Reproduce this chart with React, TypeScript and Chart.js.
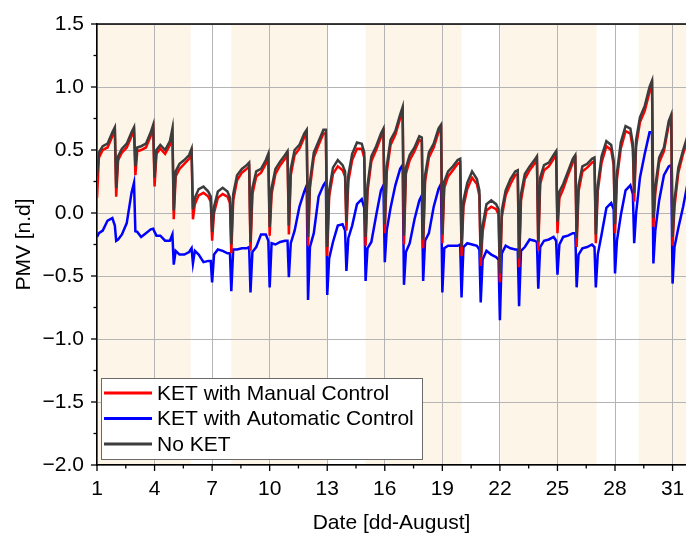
import React, { useEffect, useRef } from 'react';
import { Chart, registerables } from 'chart.js';

Chart.register(...registerables);

// ---- data ----
const seriesLabels = ['KET with Manual Control', 'KET with Automatic Control', 'No KET'];
const seriesColors = ['#ff0000', '#0000ff', '#3c3c3c'];

// sampling times inside each day (fraction of the day)
const dayFractions = [0, 0.1, 0.3, 0.55, 0.8, 0.93];
const augustDays = Array.from({ length: 31 }, (_, i) => i + 1);

const xTickValues = [1, 4, 7, 10, 13, 16, 19, 22, 25, 28, 31];
const xMin = 1;
const xMax = 31.7;
const yMin = -2.0;
const yMax = 1.5;

const weekdayBandStart = [1, 8.0, 15.0, 22.03, 29.23];
const weekdayBandEnd = [5.88, 13.04, 20.0, 27.04, 31.7];

const noKetByDay = [
  [0.29, 0.48, 0.53, 0.55, 0.64, 0.68],
  [0.20, 0.45, 0.51, 0.55, 0.64, 0.68],
  [0.37, 0.52, 0.53, 0.55, 0.64, 0.70],
  [0.28, 0.50, 0.54, 0.50, 0.57, 0.67],
  [0.02, 0.33, 0.39, 0.42, 0.46, 0.51],
  [0.03, 0.12, 0.19, 0.21, 0.17, 0.13],
  [-0.15, 0.05, 0.17, 0.20, 0.17, 0.12],
  [-0.25, 0.15, 0.30, 0.35, 0.38, 0.40],
  [-0.23, 0.20, 0.33, 0.35, 0.42, 0.47],
  [-0.11, 0.20, 0.35, 0.41, 0.46, 0.49],
  [-0.10, 0.35, 0.50, 0.54, 0.63, 0.66],
  [-0.19, 0.25, 0.48, 0.57, 0.66, 0.66],
  [-0.27, 0.18, 0.36, 0.42, 0.38, 0.33],
  [-0.07, 0.30, 0.47, 0.56, 0.55, 0.48],
  [-0.19, 0.22, 0.45, 0.53, 0.63, 0.67],
  [-0.09, 0.37, 0.58, 0.65, 0.78, 0.84],
  [-0.18, 0.36, 0.46, 0.52, 0.61, 0.60],
  [-0.21, 0.30, 0.48, 0.55, 0.67, 0.70],
  [-0.17, 0.25, 0.33, 0.37, 0.42, 0.43],
  [-0.27, 0.10, 0.24, 0.33, 0.27, 0.18],
  [-0.35, -0.10, 0.07, 0.10, 0.07, 0.03],
  [-0.48, 0.02, 0.18, 0.27, 0.33, 0.34],
  [-0.36, 0.15, 0.31, 0.37, 0.42, 0.45],
  [-0.23, 0.28, 0.38, 0.40, 0.46, 0.49],
  [-0.07, 0.17, 0.23, 0.33, 0.43, 0.46],
  [-0.20, 0.22, 0.37, 0.39, 0.43, 0.44],
  [-0.17, 0.22, 0.45, 0.57, 0.54, 0.42],
  [-0.09, 0.32, 0.56, 0.69, 0.67, 0.55],
  [0.16, 0.58, 0.76, 0.85, 1.00, 1.05],
  [-0.04, 0.21, 0.44, 0.52, 0.73, 0.78],
  [-0.19, 0.10, 0.36, 0.50, 0.62, 0.66],
];

const manualByDay = [
  [0.12, 0.44, 0.50, 0.52, 0.61, 0.65],
  [0.13, 0.42, 0.48, 0.52, 0.61, 0.65],
  [0.30, 0.49, 0.50, 0.52, 0.61, 0.67],
  [0.21, 0.47, 0.51, 0.47, 0.54, 0.64],
  [-0.05, 0.29, 0.35, 0.39, 0.43, 0.48],
  [-0.05, 0.07, 0.14, 0.16, 0.13, 0.09],
  [-0.22, 0.00, 0.12, 0.15, 0.13, 0.08],
  [-0.32, 0.10, 0.26, 0.32, 0.35, 0.37],
  [-0.30, 0.15, 0.29, 0.32, 0.39, 0.44],
  [-0.18, 0.15, 0.31, 0.38, 0.43, 0.46],
  [-0.17, 0.30, 0.46, 0.51, 0.60, 0.63],
  [-0.26, 0.20, 0.44, 0.54, 0.63, 0.63],
  [-0.34, 0.13, 0.31, 0.37, 0.34, 0.29],
  [-0.14, 0.25, 0.42, 0.51, 0.51, 0.44],
  [-0.26, 0.17, 0.41, 0.50, 0.60, 0.64],
  [-0.16, 0.32, 0.54, 0.62, 0.75, 0.81],
  [-0.25, 0.31, 0.42, 0.49, 0.58, 0.57],
  [-0.28, 0.25, 0.44, 0.52, 0.64, 0.67],
  [-0.24, 0.20, 0.29, 0.34, 0.39, 0.40],
  [-0.34, 0.05, 0.19, 0.28, 0.23, 0.14],
  [-0.42, -0.15, 0.02, 0.05, 0.03, -0.01],
  [-0.55, -0.03, 0.14, 0.23, 0.30, 0.31],
  [-0.43, 0.10, 0.27, 0.34, 0.39, 0.42],
  [-0.30, 0.23, 0.34, 0.37, 0.43, 0.46],
  [-0.16, 0.12, 0.19, 0.30, 0.40, 0.43],
  [-0.27, 0.17, 0.33, 0.36, 0.40, 0.41],
  [-0.24, 0.17, 0.40, 0.53, 0.50, 0.38],
  [-0.16, 0.27, 0.51, 0.65, 0.63, 0.51],
  [0.09, 0.53, 0.72, 0.81, 0.96, 1.01],
  [-0.11, 0.16, 0.40, 0.49, 0.70, 0.75],
  [-0.26, 0.05, 0.32, 0.47, 0.59, 0.63],
];

const automaticByDay = [
  [-0.19, -0.16, -0.14, -0.06, -0.04, -0.10],
  [-0.22, -0.21, -0.17, -0.08, 0.16, 0.24],
  [-0.145, -0.15, -0.19, -0.16, -0.13, -0.125],
  [-0.15, -0.18, -0.18, -0.22, -0.22, -0.17],
  [-0.41, -0.30, -0.33, -0.33, -0.31, -0.28],
  [-0.40, -0.30, -0.33, -0.39, -0.38, -0.38],
  [-0.55, -0.33, -0.29, -0.30, -0.32, -0.32],
  [-0.62, -0.29, -0.29, -0.28, -0.28, -0.27],
  [-0.63, -0.31, -0.27, -0.17, -0.17, -0.22],
  [-0.59, -0.24, -0.25, -0.23, -0.22, -0.22],
  [-0.51, -0.24, -0.14, 0.05, 0.17, 0.22],
  [-0.69, -0.27, -0.16, 0.13, 0.22, 0.25],
  [-0.65, -0.36, -0.23, -0.10, -0.09, -0.14],
  [-0.46, -0.20, -0.10, 0.07, 0.11, 0.04],
  [-0.54, -0.28, -0.23, -0.02, 0.18, 0.22],
  [-0.39, -0.14, 0.04, 0.22, 0.35, 0.38],
  [-0.57, -0.31, -0.24, -0.05, 0.10, 0.14],
  [-0.54, -0.22, -0.16, 0.05, 0.19, 0.23],
  [-0.63, -0.28, -0.26, -0.26, -0.26, -0.25],
  [-0.67, -0.27, -0.24, -0.25, -0.26, -0.29],
  [-0.71, -0.37, -0.30, -0.33, -0.35, -0.37],
  [-0.85, -0.32, -0.26, -0.28, -0.29, -0.29],
  [-0.74, -0.30, -0.27, -0.21, -0.22, -0.23],
  [-0.60, -0.27, -0.22, -0.21, -0.19, -0.22],
  [-0.49, -0.25, -0.19, -0.18, -0.16, -0.16],
  [-0.59, -0.33, -0.28, -0.27, -0.25, -0.27],
  [-0.59, -0.33, -0.17, 0.04, 0.08, 0.03],
  [-0.48, -0.22, -0.02, 0.18, 0.22, 0.15],
  [-0.24, 0.00, 0.28, 0.47, 0.64, 0.64],
  [-0.40, -0.14, 0.10, 0.30, 0.37, 0.38],
  [-0.56, -0.27, -0.12, 0.05, 0.25, 0.30],
];

const FONT = "'Liberation Sans', Arial, sans-serif";

function toPoints(byDay: number[][]) {
  const pts: { x: number; y: number }[] = [];
  augustDays.forEach((day, i) => {
    dayFractions.forEach((f, j) => {
      pts.push({ x: day + f, y: byDay[i][j] });
    });
  });
  return pts;
}

const decorPlugin = {
  id: 'decor',
  beforeDraw(chart: any) {
    const { ctx, chartArea: a, scales } = chart;
    const x = scales.x;
    ctx.save();
    ctx.fillStyle = '#fdf5e8';
    weekdayBandStart.forEach((s, i) => {
      const x0 = Math.max(a.left, x.getPixelForValue(s));
      const x1 = Math.min(a.right, x.getPixelForValue(weekdayBandEnd[i]));
      ctx.fillRect(x0, a.top, x1 - x0, a.bottom - a.top);
    });
    ctx.restore();
  },
  afterDraw(chart: any) {
    const { ctx, chartArea: a, scales } = chart;
    const x = scales.x;
    const y = scales.y;
    ctx.save();
    ctx.strokeStyle = '#000';
    ctx.lineWidth = 1.5;
    // top border
    ctx.beginPath();
    ctx.moveTo(a.left, a.top);
    ctx.lineTo(a.right, a.top);
    ctx.stroke();
    // x ticks
    ctx.lineWidth = 1.3;
    xTickValues.forEach((v) => {
      const px = x.getPixelForValue(v);
      ctx.beginPath();
      ctx.moveTo(px, a.bottom);
      ctx.lineTo(px, a.bottom + 6);
      ctx.stroke();
      const mv = v + 1.5;
      if (mv <= xMax) {
        const mpx = x.getPixelForValue(mv);
        ctx.beginPath();
        ctx.moveTo(mpx, a.bottom);
        ctx.lineTo(mpx, a.bottom + 3.5);
        ctx.stroke();
      }
    });
    // y ticks
    for (let v = yMin; v <= yMax + 1e-9; v += 0.25) {
      const py = y.getPixelForValue(v);
      const major = Math.abs(v * 2 - Math.round(v * 2)) < 1e-6;
      ctx.beginPath();
      ctx.moveTo(a.left, py);
      ctx.lineTo(a.left - (major ? 6 : 3.5), py);
      ctx.stroke();
    }
    // legend
    const lx = a.left + 4;
    const ly = a.bottom - 87;
    const lw = 321;
    const lh = 81;
    ctx.fillStyle = '#ffffff';
    ctx.fillRect(lx, ly, lw, lh);
    ctx.strokeStyle = '#6a6a6a';
    ctx.lineWidth = 1;
    ctx.strokeRect(lx + 0.5, ly + 0.5, lw, lh);
    ctx.font = `21px ${FONT}`;
    ctx.textBaseline = 'middle';
    ctx.textAlign = 'left';
    chart.data.datasets.forEach((ds: any, i: number) => {
      const rowY = ly + 15 + i * 25.5;
      ctx.strokeStyle = ds.borderColor;
      ctx.lineWidth = 3;
      ctx.beginPath();
      ctx.moveTo(lx + 3, rowY);
      ctx.lineTo(lx + 51, rowY);
      ctx.stroke();
      ctx.fillStyle = '#000';
      ctx.fillText(ds.label, lx + 56, rowY + 1);
    });
    ctx.restore();
  },
};

export default function App() {
  const ref = useRef<HTMLCanvasElement | null>(null);
  useEffect(() => {
    if (!ref.current) return;
    const byDayList = [manualByDay, automaticByDay, noKetByDay];
    const orders = [1, 2, 0];
    const chart = new Chart(ref.current, {
      type: 'line',
      data: {
        datasets: seriesLabels.map((label, i) => ({
          label,
          data: toPoints(byDayList[i]),
          borderColor: seriesColors[i],
          backgroundColor: seriesColors[i],
          borderWidth: 2.5,
          pointRadius: 0,
          tension: 0,
          order: orders[i],
        })),
      },
      options: {
        animation: false,
        responsive: false,
        devicePixelRatio: 1,
        layout: { padding: { top: 24, left: 0, right: 0, bottom: 0 } },
        plugins: {
          legend: { display: false },
          tooltip: { enabled: false },
        },
        scales: {
          x: {
            type: 'linear',
            min: xMin,
            max: xMax,
            afterBuildTicks: (s: any) => {
              s.ticks = xTickValues.map((value) => ({ value }));
            },
            afterFit: (s: any) => {
              s.height = 69;
              s.paddingLeft = 0;
              s.paddingRight = 0;
            },
            grid: { color: '#b4b4b4', lineWidth: 1, drawTicks: false, tickLength: 0 },
            border: { color: '#000', width: 1.5 },
            ticks: {
              color: '#000',
              font: { size: 21, family: FONT },
              padding: 12,
              maxRotation: 0,
              autoSkip: false,
              callback: (v: any) => String(v),
            },
            title: {
              display: true,
              text: 'Date [dd-August]',
              color: '#000',
              font: { size: 21, family: FONT, lineHeight: 1 },
              padding: { top: 0, bottom: 0 },
            },
          },
          y: {
            type: 'linear',
            min: yMin,
            max: yMax,
            afterFit: (s: any) => {
              s.width = 97;
              s.paddingTop = 0;
              s.paddingBottom = 0;
            },
            grid: { color: '#b4b4b4', lineWidth: 1, drawTicks: false, tickLength: 0 },
            border: { color: '#000', width: 1.5 },
            ticks: {
              stepSize: 0.5,
              color: '#000',
              font: { size: 21, family: FONT },
              padding: 13,
              callback: (v: any) => (Number(v) < 0 ? '\u2212' : '') + Math.abs(Number(v)).toFixed(1),
            },
            title: {
              display: true,
              text: 'PMV [n.d]',
              color: '#000',
              font: { size: 21, family: FONT, lineHeight: 1 },
              padding: { top: 14, bottom: 0 },
            },
          },
        },
      },
      plugins: [decorPlugin],
    });
    return () => chart.destroy();
  }, []);
  return (
    <div style={{ position: 'fixed', left: 0, top: 0, width: 686, height: 534, background: '#fff' }}>
      <canvas ref={ref} width={686} height={534} style={{ display: 'block' }} />
    </div>
  );
}
